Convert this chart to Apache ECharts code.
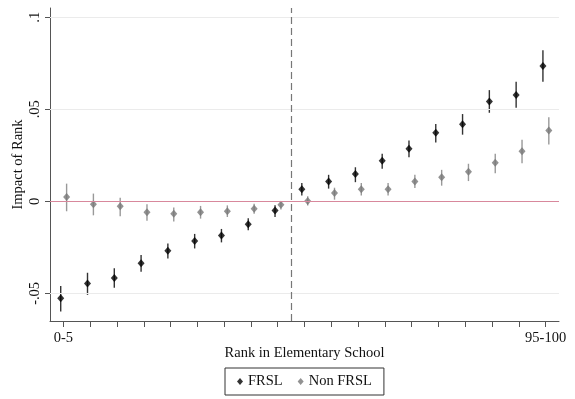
<!DOCTYPE html>
<html>
<head>
<meta charset="utf-8">
<script src="https://cdn.jsdelivr.net/npm/echarts@6/dist/echarts.min.js"></script>
<style>html,body{margin:0;padding:0;background:#fff;}#c{width:575px;height:399px;}</style>
</head>
<body>
<div id="c"></div>
<script>
const rankPos = [1,2,3,4,5,6,7,8,9,10,11,12,13,14,15,16,17,18,19];
const tickLabelPos = [1, 19];
const tickLabels = ['0-5', '95-100'];
const frsl   = [-0.0526,-0.0447,-0.0416,-0.0337,-0.0269,-0.0216,-0.0186,-0.0124,-0.0050,0.0066,0.0108,0.0148,0.0220,0.0285,0.0373,0.0418,0.0542,0.0578,0.0735];
const frslLo = [-0.0598,-0.0508,-0.0469,-0.0382,-0.0310,-0.0256,-0.0223,-0.0157,-0.0085,0.0032,0.0069,0.0104,0.0177,0.0240,0.0320,0.0362,0.0481,0.0508,0.0650];
const frslHi = [-0.0460,-0.0388,-0.0364,-0.0292,-0.0229,-0.0177,-0.0150,-0.0092,-0.0022,0.0099,0.0144,0.0185,0.0258,0.0330,0.0420,0.0474,0.0604,0.0649,0.0820];
const non    = [0.0023,-0.0016,-0.0027,-0.0059,-0.0068,-0.0059,-0.0054,-0.0040,-0.0018,0.0002,0.0045,0.0065,0.0065,0.0108,0.0131,0.0160,0.0209,0.0272,0.0384];
const nonLo  = [-0.0054,-0.0076,-0.0081,-0.0106,-0.0110,-0.0094,-0.0085,-0.0067,-0.0045,-0.0023,0.0009,0.0032,0.0032,0.0072,0.0085,0.0110,0.0153,0.0207,0.0308];
const nonHi  = [0.0096,0.0042,0.0020,-0.0016,-0.0034,-0.0025,-0.0022,-0.0013,0.0002,0.0027,0.0074,0.0099,0.0099,0.0144,0.0171,0.0204,0.0258,0.0334,0.0456];
const yTicks = [-0.05, 0, 0.05, 0.1];
const cutoff = 9.5;

const offF = -0.1, offN = 0.12;
const font = 'Liberation Serif';

function errData(vals, lo, hi, off){ return rankPos.map((p,i)=>[p+off, lo[i], hi[i]]); }
function ptData(vals, off){ return rankPos.map((p,i)=>[p+off, vals[i]]); }
function errSeries(data, color){
  return {
    type:'custom', silent:true, z:2,
    renderItem:function(params, api){
      const a = api.coord([api.value(0), api.value(1)]);
      const b = api.coord([api.value(0), api.value(2)]);
      return {type:'line', shape:{x1:a[0],y1:a[1],x2:b[0],y2:b[1]}, style:{stroke:color, lineWidth:1.4}};
    },
    encode:{x:0, y:[1,2]},
    data:data
  };
}
function fmtY(v){
  if (Math.abs(v) < 1e-9) return '0';
  let s = String(+v.toFixed(3));
  return s.replace(/^(-?)0\./, '$1.');
}

const chart = echarts.init(document.getElementById('c'), null, {renderer:'canvas'});
chart.setOption({
  animation:false,
  backgroundColor:'#fff',
  textStyle:{fontFamily:font},
  grid:{left:50, right:16, top:8, bottom:78, containLabel:false, outerBoundsMode:'none'},
  legend:{
    bottom:4, left:225,
    data:[{name:'FRSL', icon:'diamond', itemStyle:{color:'#000'}},{name:'Non FRSL', icon:'diamond', itemStyle:{color:'#777'}}],
    itemWidth:6, itemHeight:7, itemGap:15,
    borderColor:'#333', borderWidth:1, borderRadius:0, padding:[6,12,6,12],
    textStyle:{fontFamily:font, fontSize:14.5, color:'#111'}
  },
  xAxis:{
    type:'value', min:0.5, max:19.5,
    name:'Rank in Elementary School', nameLocation:'middle', nameGap:25, nameMoveOverlap:false,
    nameTextStyle:{fontFamily:font, fontSize:14.5, color:'#111'},
    axisLine:{show:true, onZero:false, lineStyle:{color:'#555', width:1}},
    axisTick:{show:true, length:6, customValues:rankPos, lineStyle:{color:'#555'}},
    axisLabel:{show:true, customValues:tickLabelPos, margin:10, fontFamily:font, fontSize:14.5, color:'#111',
      formatter:function(v){ const i = tickLabelPos.indexOf(Math.round(v)); return i>=0 ? tickLabels[i] : ''; }},
    splitLine:{show:false}
  },
  yAxis:{
    type:'value', min:-0.065, max:0.105,
    name:'Impact of Rank', nameLocation:'middle', nameGap:24, nameMoveOverlap:false,
    nameTextStyle:{fontFamily:font, fontSize:14.5, color:'#111'},
    axisLine:{show:true, onZero:false, lineStyle:{color:'#555', width:1}},
    axisTick:{show:true, length:5, customValues:yTicks, lineStyle:{color:'#555'}},
    axisLabel:{show:true, customValues:yTicks, rotate:90, margin:7, fontFamily:font, fontSize:14.5, color:'#111', formatter:fmtY},
    splitLine:{show:false}
  },
  series:[
    {
      type:'scatter', name:'grid', silent:true, data:[], z:1,
      markLine:{silent:true, symbol:'none', label:{show:false},
        data:[
          {yAxis:-0.05, lineStyle:{color:'#ebebeb', width:1, type:'solid'}},
          {yAxis:0.05, lineStyle:{color:'#ebebeb', width:1, type:'solid'}},
          {yAxis:0.1, lineStyle:{color:'#ebebeb', width:1, type:'solid'}},
          {yAxis:0, lineStyle:{color:'#d8889c', width:1, type:'solid'}},
          {xAxis:cutoff, lineStyle:{color:'#777', width:1.2, type:[7,4]}}
        ]}
    },
    errSeries(errData(frsl, frslLo, frslHi, offF), '#333'),
    errSeries(errData(non, nonLo, nonHi, offN), '#999'),
    {type:'scatter', name:'FRSL', symbol:'diamond', symbolSize:[7,8], itemStyle:{color:'#000'}, z:3, data:ptData(frsl, offF)},
    {type:'scatter', name:'Non FRSL', symbol:'diamond', symbolSize:[7,8], itemStyle:{color:'#777'}, z:3, data:ptData(non, offN)}
  ]
});
</script>
</body>
</html>
